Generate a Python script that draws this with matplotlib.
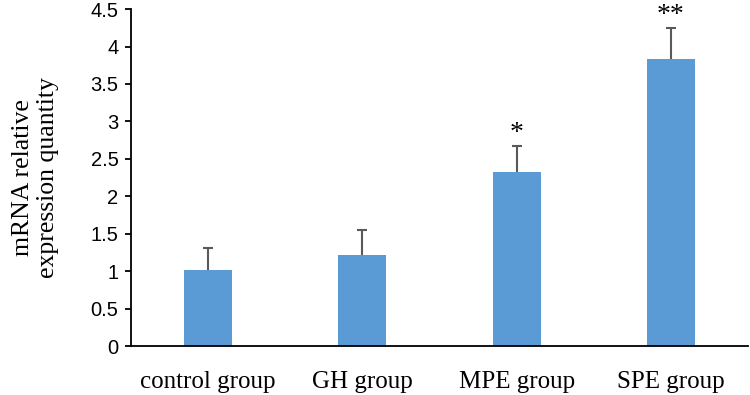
import matplotlib.pyplot as plt

groups = ['control group', 'GH group', 'MPE group', 'SPE group']
means = [1.01, 1.21, 2.32, 3.83]
errors = [0.30, 0.34, 0.35, 0.42]
marks = ['', '', '*', '**']

serif = ['Liberation Serif', 'DejaVu Serif']
sans = ['Liberation Sans', 'DejaVu Sans']

fig = plt.figure(figsize=(7.5, 3.95), dpi=100)
ax = fig.add_axes([0.1747, 0.124, 0.8226, 0.853])

x = range(len(groups))
ax.bar(x, means, width=0.31, color='#5B9BD5', zorder=2)
eb = ax.errorbar(x, means, yerr=[[0] * len(errors), errors], fmt='none',
                 ecolor='#595959', elinewidth=1.5, capsize=3.5, capthick=1.5, zorder=3)
eb[1][0].set_visible(False)  # only the upper cap

# significance stars above the error bars
for i in range(len(groups)):
    if marks[i]:
        ax.annotate(marks[i], (i, means[i] + errors[i]), xytext=(0, 0),
                    textcoords='offset points', ha='center', va='bottom',
                    fontsize=20, family=serif)

ax.set_xlim(-0.5, 3.5)
ax.set_ylim(0, 4.5)
ax.set_yticks([0, 0.5, 1, 1.5, 2, 2.5, 3, 3.5, 4, 4.5])
ax.set_yticklabels(['0', '0.5', '1', '1.5', '2', '2.5', '3', '3.5', '4', '4.5'],
                   family=sans, fontsize=14.5)
ax.set_xticks(list(x))
ax.set_xticklabels(groups, family=serif, fontsize=18)
ax.tick_params(axis='x', length=0, pad=18)
ax.tick_params(axis='y', length=4, width=1.3, direction='out', pad=5)

ax.spines['top'].set_visible(False)
ax.spines['right'].set_visible(False)
ax.spines['left'].set_linewidth(1.3)
ax.spines['bottom'].set_linewidth(1.3)

ax.set_ylabel('mRNA relative\nexpression quantity', family=serif, fontsize=18.5,
              linespacing=1.2)
ax.yaxis.set_label_coords(-0.116, 0.5)

plt.savefig('out.png', dpi=100)
